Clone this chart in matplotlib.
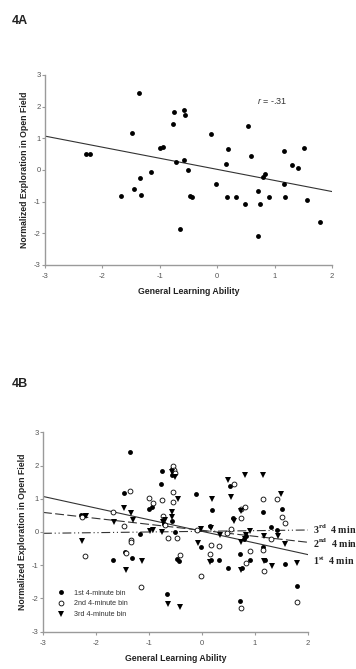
import matplotlib
matplotlib.use('Agg')
import matplotlib.pyplot as plt
import numpy as np

plt.rcParams['mathtext.fontset'] = 'custom'
plt.rcParams['mathtext.rm'] = 'Liberation Serif:bold'
plt.rcParams['mathtext.it'] = 'Liberation Sans:italic'
plt.rcParams['axes.unicode_minus'] = False

# ---------------- data ----------------
# 1st 4-minute bin (also panel 4A)
x_bin1 = [-2.28, -2.22, -1.36, -1.48, -1.68, -1.45, -1.34, -1.32, -1.16, -1.00, -0.94,
          -0.77, -0.75, -0.71, -0.65, -0.57, -0.56, -0.57, -0.51, -0.47, -0.43, -0.11,
          -0.02, 0.15, 0.19, 0.18, 0.32, 0.49, 0.53, 0.59, 0.72, 0.75, 0.72, 0.80, 0.84,
          0.90, 1.16, 1.16, 1.19, 1.30, 1.41, 1.51, 1.56, 1.79]
y_bin1 = [0.50, 0.50, 2.42, 1.17, -0.83, -0.61, -0.25, -0.78, -0.06, 0.70, 0.74,
          1.44, 1.83, 0.24, -1.86, 1.90, 1.73, 0.33, 0.00, -0.81, -0.86, 1.15,
          -0.44, 0.19, 0.67, -0.84, -0.84, -1.07, 1.39, 0.43, -0.65, -1.07, -2.09, -0.21, -0.12,
          -0.84, 0.61, -0.45, -0.84, 0.16, 0.07, 0.69, -0.95, -1.64]

# 2nd 4-minute bin
x_bin2 = [-2.26, -2.20, -1.67, -1.47, -1.44, -1.35, -1.33, -1.33, -1.15, -0.99, -0.93,
          -0.76, -0.74, -0.70, -0.64, -0.55, -0.55, -0.55, -0.53, -0.50, -0.47, -0.42,
          -0.10, -0.02, 0.15, 0.18, 0.33, 0.47, 0.54, 0.60, 0.73, 0.74, 0.81, 0.84, 0.90,
          0.73, 1.15, 1.15, 1.18, 1.30, 1.41, 1.52, 1.57, 1.79]
y_bin2 = [0.44, -0.72, 0.60, 0.17, -0.64, 1.22, -0.25, -0.30, -1.67, 1.01, 0.87,
          0.96, 0.48, 0.21, -0.18, 1.98, 1.21, 0.91, 1.87, 1.79, -0.17, -0.69,
          0.05, -1.33, -0.66, -0.40, -0.42, -0.03, 0.08, 1.44, 0.41, 0.70, 0.76, -0.94, -0.58,
          -2.28, 0.98, -0.55, -1.17, -0.20, 1.00, 0.46, 0.26, -2.12]

# 3rd 4-minute bin
x_bin3 = [-2.26, -2.19, -1.66, -1.47, -1.44, -1.33, -1.30, -1.14, -0.98, -0.92, -0.76,
          -0.73, -0.70, -0.64, -0.57, -0.56, -0.56, -0.51, -0.46, -0.42, -0.08, -0.01,
          0.16, 0.18, 0.19, 0.34, 0.49, 0.55, 0.61, 0.74, 0.74, 0.74, 0.81, 0.84, 0.90,
          0.82, 1.15, 1.17, 1.18, 1.32, 1.50, 1.43, 1.57, 1.79]
y_bin3 = [-0.26, 0.47, 0.29, 0.73, -1.13, 0.56, 0.36, -0.88, 0.02, 0.07, 0.00,
          0.31, 0.36, -2.18, 1.82, 0.60, 0.46, 1.66, 0.99, -2.25, -0.34, 0.08,
          -0.89, 0.11, 0.98, -0.09, 1.57, 1.06, 0.33, 0.62, -0.30, -1.14, -0.20, -0.08, 0.03,
          1.72, 1.72, -0.11, -0.86, -1.02, 1.14, -0.11, -0.37, -0.92]

# regression lines (intercept, slope)
fit_intercept = [0.02, 0.05, 0.02]
fit_slope = [-0.35, -0.18, 0.02]

legend_labels = ['1st 4-minute bin', '2nd 4-minute bin', '3rd 4-minute bin']
line_labels = ['1$^{\\rm st}$  4 min', '2$^{\\rm nd}$  4 min', '3$^{\\rm rd}$  4 min']
x_ticks = [-3, -2, -1, 0, 1, 2]
y_ticks = [-3, -2, -1, 0, 1, 2, 3]

# ---------------- figure ----------------
fig = plt.figure(figsize=(3.56, 6.69), dpi=100)

SANS = 'Liberation Sans'
AXC = '#9a9a9a'


def style(ax):
    ax.set_xlim(-3, 2)
    ax.set_ylim(-3, 3)
    ax.set_xticks(x_ticks)
    ax.set_yticks(y_ticks)
    for s in ['top', 'right']:
        ax.spines[s].set_visible(False)
    for s in ['left', 'bottom']:
        ax.spines[s].set_color(AXC)
        ax.spines[s].set_linewidth(1.0)
    ax.tick_params(axis='both', direction='out', length=2, width=0.8, color=AXC,
                   labelsize=5.5, labelcolor='#555555')
    ax.tick_params(axis='x', pad=4)
    ax.tick_params(axis='y', pad=1)
    for lab in ax.get_xticklabels() + ax.get_yticklabels():
        lab.set_fontfamily(SANS)
    ax.set_xlabel('General Learning Ability', fontfamily=SANS, fontweight='bold',
                  fontsize=6.3, color='#222222', labelpad=5)
    ax.set_ylabel('Normalized Exploration in Open Field', fontfamily=SANS,
                  fontweight='bold', fontsize=6.3, color='#222222', labelpad=4)


xl = np.array([-3.0, 2.0])

# ---- 4A ----
ax1 = fig.add_axes([0.1264, 0.6039, 0.806, 0.284])
style(ax1)
ax1.plot(xl, fit_intercept[0] + fit_slope[0] * xl, color='#333333', lw=0.8)
ax1.plot(x_bin1, y_bin1, 'o', ms=3.5, color='black', mew=0, clip_on=False)
ax1.text(0.69, 2.18, '$r$ = -.31', fontfamily=SANS, fontsize=6.5, color='#333333',
         va='center')
fig.text(0.034, 0.977, '4A', fontfamily=SANS, fontweight='bold', fontsize=9,
         va='top', color='#222222')

# ---- 4B ----
ax2 = fig.add_axes([0.1208, 0.0558, 0.744, 0.298])
style(ax2)
ax2.plot(xl, fit_intercept[0] + fit_slope[0] * xl, color='#333333', lw=0.8)
ax2.plot(xl, fit_intercept[1] + fit_slope[1] * xl, color='#333333', lw=0.8,
         dashes=(8, 3))
ax2.plot(xl, fit_intercept[2] + fit_slope[2] * xl, color='#333333', lw=0.8,
         dashes=(8, 2.5, 1, 2.5, 1, 2.5))
h1, = ax2.plot(x_bin1, y_bin1, 'o', ms=3.5, color='black', mew=0, clip_on=False)
h2, = ax2.plot(x_bin2, y_bin2, 'o', ms=3.5, mfc='white', mec='black', mew=0.6,
               clip_on=False)
h3, = ax2.plot(x_bin3, y_bin3, 'v', ms=3.9, color='black', mew=0, clip_on=False)

leg = ax2.legend([h1, h2, h3], legend_labels, loc='upper left',
                 bbox_to_anchor=(0.04, 0.225), frameon=False,
                 prop={'family': SANS, 'size': 5.2}, handletextpad=1.2,
                 labelspacing=0.5, handlelength=1.2, borderaxespad=0)
for t in leg.get_texts():
    t.set_color('#333333')

label_y = [-0.86, -0.34, 0.08]
for i in range(3):
    ax2.text(2.09, label_y[i], line_labels[i], fontfamily='Liberation Serif',
             fontweight='bold', fontsize=7.2, va='center', ha='left',
             color='#222222', clip_on=False)

fig.text(0.034, 0.435, '4B', fontfamily=SANS, fontweight='bold', fontsize=9,
         va='top', color='#222222')

fig.savefig('out.png', dpi=100)
